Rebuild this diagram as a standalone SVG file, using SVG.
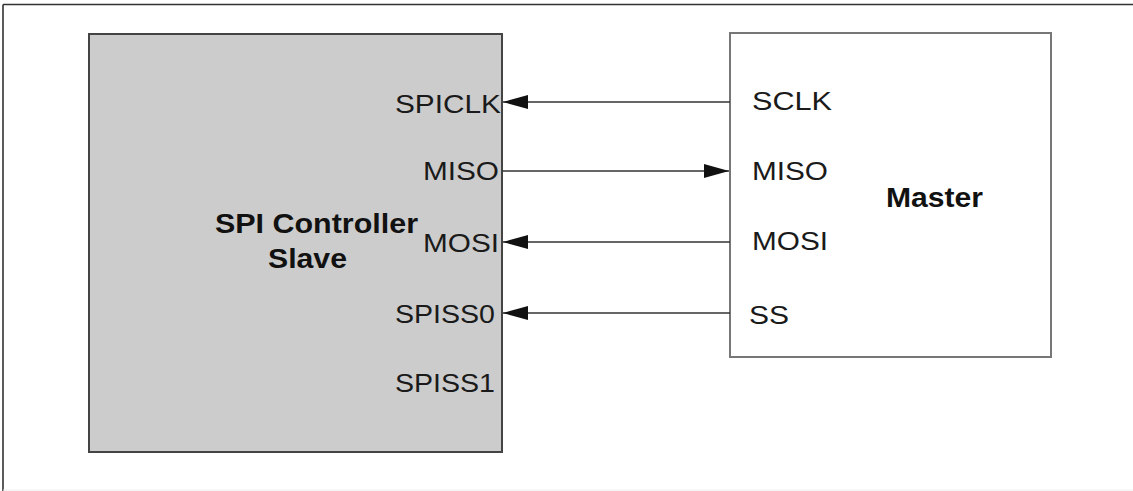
<svg xmlns="http://www.w3.org/2000/svg" width="1133" height="491" viewBox="0 0 1133 491">
<style>
.lbl{font-family:"Liberation Sans",Arial,sans-serif;font-size:25px;fill:#1a1a1a}
.bold{font-family:"Liberation Sans",Arial,sans-serif;font-size:27px;font-weight:bold;fill:#111}
.wire{stroke:#333;stroke-width:1.6;fill:none}
</style>
<defs>
<marker id="ah" viewBox="0 0 25 14" refX="25" refY="7" markerWidth="25" markerHeight="14" markerUnits="userSpaceOnUse" orient="auto">
<path d="M0,0 L25,7 L0,14 Z" fill="#111"/>
</marker>
</defs>
<rect width="1133" height="491" fill="#fff"/>
<g id="frame">
<line x1="3" y1="4.5" x2="1133" y2="4.5" stroke="#333" stroke-width="1.6"/>
<line x1="3" y1="4.5" x2="3" y2="491" stroke="#333" stroke-width="1.6"/>
<line x1="3" y1="490" x2="1133" y2="490" stroke="#eee" stroke-width="1"/>
</g>
<g id="slave">
<rect x="89" y="34" width="413" height="418" fill="#cccccc" stroke="#444" stroke-width="2"/>
<text class="bold" x="215" y="233" textLength="203" lengthAdjust="spacingAndGlyphs">SPI Controller</text>
<text class="bold" x="268" y="268" textLength="79" lengthAdjust="spacingAndGlyphs">Slave</text>
<text class="lbl" x="395" y="113" textLength="106" lengthAdjust="spacingAndGlyphs">SPICLK</text>
<text class="lbl" x="423" y="180" textLength="76" lengthAdjust="spacingAndGlyphs">MISO</text>
<text class="lbl" x="423" y="252" textLength="76" lengthAdjust="spacingAndGlyphs">MOSI</text>
<text class="lbl" x="395" y="323" textLength="100" lengthAdjust="spacingAndGlyphs">SPISS0</text>
<text class="lbl" x="395" y="392" textLength="100" lengthAdjust="spacingAndGlyphs">SPISS1</text>
</g>
<g id="master">
<rect x="730" y="33" width="321" height="324" fill="#fff" stroke="#777" stroke-width="2"/>
<text class="bold" x="886" y="207" textLength="97" lengthAdjust="spacingAndGlyphs">Master</text>
<text class="lbl" x="752" y="110" textLength="80" lengthAdjust="spacingAndGlyphs">SCLK</text>
<text class="lbl" x="752" y="180" textLength="76" lengthAdjust="spacingAndGlyphs">MISO</text>
<text class="lbl" x="752" y="250" textLength="76" lengthAdjust="spacingAndGlyphs">MOSI</text>
<text class="lbl" x="749" y="324" textLength="40" lengthAdjust="spacingAndGlyphs">SS</text>
</g>
<g id="connectors">
<line class="wire" x1="730" y1="102" x2="503" y2="102" marker-end="url(#ah)"/>
<line class="wire" x1="502" y1="171" x2="729" y2="171" marker-end="url(#ah)"/>
<line class="wire" x1="730" y1="242" x2="503" y2="242" marker-end="url(#ah)"/>
<line class="wire" x1="730" y1="313" x2="503" y2="313" marker-end="url(#ah)"/>
</g>
</svg>
